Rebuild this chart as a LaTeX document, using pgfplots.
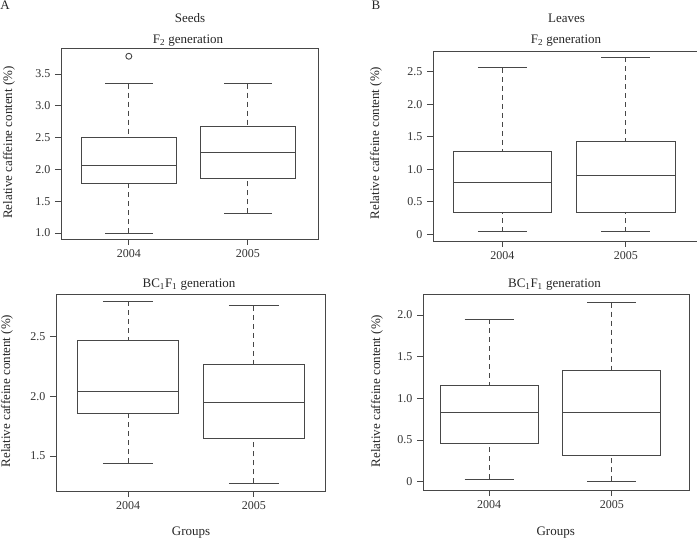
\documentclass[border=0pt]{standalone}
\usepackage{pgfplots}
\pgfplotsset{compat=1.18}
\usepgfplotslibrary{statistics}
\usepackage{fontspec}
\setmainfont{Liberation Serif}
\colorlet{rline}{black!72}
\pgfplotsset{
  rbox/.style={
    scale only axis,
    anchor=south west,
    axis line style={rline, line width=0.9bp},
    every tick/.style={rline, line width=0.9bp},
    tick align=outside,
    major tick length=6bp,
    xtick pos=bottom, ytick pos=left,
    xtick={1,2}, xticklabels={2004,2005},
    tick label style={font=\fontsize{12bp}{14bp}\selectfont, text=black!80},
    boxplot/draw direction=y,
    boxplot/box extend=0.8,
    boxplot/draw/lower whisker/.code={
      \draw[rline, line width=0.9bp, dash pattern=on 5bp off 4bp]
        (boxplot box cs:\pgfplotsboxplotvalue{lower whisker},0.5) --
        (boxplot box cs:\pgfplotsboxplotvalue{lower quartile},0.5);
      \draw[rline, line width=0.9bp]
        (boxplot box cs:\pgfplotsboxplotvalue{lower whisker},0.25) --
        (boxplot box cs:\pgfplotsboxplotvalue{lower whisker},0.75);
    },
    boxplot/draw/upper whisker/.code={
      \draw[rline, line width=0.9bp, dash pattern=on 5bp off 4bp]
        (boxplot box cs:\pgfplotsboxplotvalue{upper whisker},0.5) --
        (boxplot box cs:\pgfplotsboxplotvalue{upper quartile},0.5);
      \draw[rline, line width=0.9bp]
        (boxplot box cs:\pgfplotsboxplotvalue{upper whisker},0.25) --
        (boxplot box cs:\pgfplotsboxplotvalue{upper whisker},0.75);
    },
  },
  rplot/.style={draw=rline, line width=0.9bp, mark=o, mark size=3bp,
    mark options={rline, solid, line width=0.9bp}},
}
\begin{document}
\begin{tikzpicture}[x=1bp,y=1bp]
\useasboundingbox (0,0) rectangle (697,546);
\fontsize{13bp}{15bp}\selectfont
% ---------------- Top left: Seeds F2
\begin{axis}[rbox, at={(61bp,307bp)}, width=257bp, height=191bp,
  xmin=0.43, xmax=2.59, ymin=0.906, ymax=3.91,
  ytick={1,1.5,2,2.5,3,3.5}, yticklabels={1.0,1.5,2.0,2.5,3.0,3.5}]
\addplot[rplot, boxplot prepared={draw position=1,
  lower whisker=1.00, lower quartile=1.78, median=2.06,
  upper quartile=2.51, upper whisker=3.35}] coordinates {(1,3.78)};
\addplot[rplot, boxplot prepared={draw position=2,
  lower whisker=1.31, lower quartile=1.865, median=2.27,
  upper quartile=2.68, upper whisker=3.35}] coordinates {};
\end{axis}
% ---------------- Top right: Leaves F2
\begin{axis}[rbox, at={(433bp,305bp)}, width=266bp, height=190bp,
  xmin=0.437, xmax=2.594, ymin=-0.105, ymax=2.82,
  ytick={0,0.5,1,1.5,2,2.5}, yticklabels={0,0.5,1.0,1.5,2.0,2.5}]
\addplot[rplot, boxplot prepared={draw position=1,
  lower whisker=0.035, lower quartile=0.34, median=0.80,
  upper quartile=1.27, upper whisker=2.56}] coordinates {};
\addplot[rplot, boxplot prepared={draw position=2,
  lower whisker=0.04, lower quartile=0.34, median=0.905,
  upper quartile=1.43, upper whisker=2.72}] coordinates {};
\end{axis}
% ---------------- Bottom left: Seeds BC1F1
\begin{axis}[rbox, at={(56bp,55bp)}, width=269bp, height=197bp,
  xmin=0.427, xmax=2.565, ymin=1.206, ymax=2.859,
  ytick={1.5,2,2.5}, yticklabels={1.5,2.0,2.5}]
\addplot[rplot, boxplot prepared={draw position=1,
  lower whisker=1.44, lower quartile=1.853, median=2.04,
  upper quartile=2.472, upper whisker=2.80}] coordinates {};
\addplot[rplot, boxplot prepared={draw position=2,
  lower whisker=1.27, lower quartile=1.645, median=1.95,
  upper quartile=2.27, upper whisker=2.76}] coordinates {};
\end{axis}
% ---------------- Bottom right: Leaves BC1F1
\begin{axis}[rbox, at={(423bp,56bp)}, width=266bp, height=196bp,
  xmin=0.46, xmax=2.63, ymin=-0.0996, ymax=2.253,
  ytick={0,0.5,1,1.5,2}, yticklabels={0,0.5,1.0,1.5,2.0}]
\addplot[rplot, boxplot prepared={draw position=1,
  lower whisker=0.03, lower quartile=0.456, median=0.837,
  upper quartile=1.15, upper whisker=1.95}] coordinates {};
\addplot[rplot, boxplot prepared={draw position=2,
  lower whisker=0.005, lower quartile=0.31, median=0.83,
  upper quartile=1.34, upper whisker=2.15}] coordinates {};
\end{axis}
% ---------------- Texts
\begin{scope}[every node/.style={text=black!85, inner sep=0pt}]
\node[anchor=base] at (5,536) {A};
\node[anchor=base] at (376,536) {B};
\node[anchor=base] at (190,523.3) {Seeds};
\node[anchor=base] at (188,502.7) {F\textsubscript{2} generation};
\node[anchor=base] at (566.5,523.3) {Leaves};
\node[anchor=base] at (566,502.7) {F\textsubscript{2} generation};
\node[anchor=base] at (189,258.7) {BC\textsubscript{1}F\textsubscript{1} generation};
\node[anchor=base] at (554.5,258.7) {BC\textsubscript{1}F\textsubscript{1} generation};
\node[anchor=base] at (191,10) {Groups};
\node[anchor=base] at (555.7,10) {Groups};
\node[rotate=90] at (9,403.5) {Relative caffeine content (\%)};
\node[rotate=90] at (376,403) {Relative caffeine content (\%)};
\node[rotate=90] at (7,155) {Relative caffeine content (\%)};
\node[rotate=90] at (377,155) {Relative caffeine content (\%)};
\end{scope}
\end{tikzpicture}
\end{document}
